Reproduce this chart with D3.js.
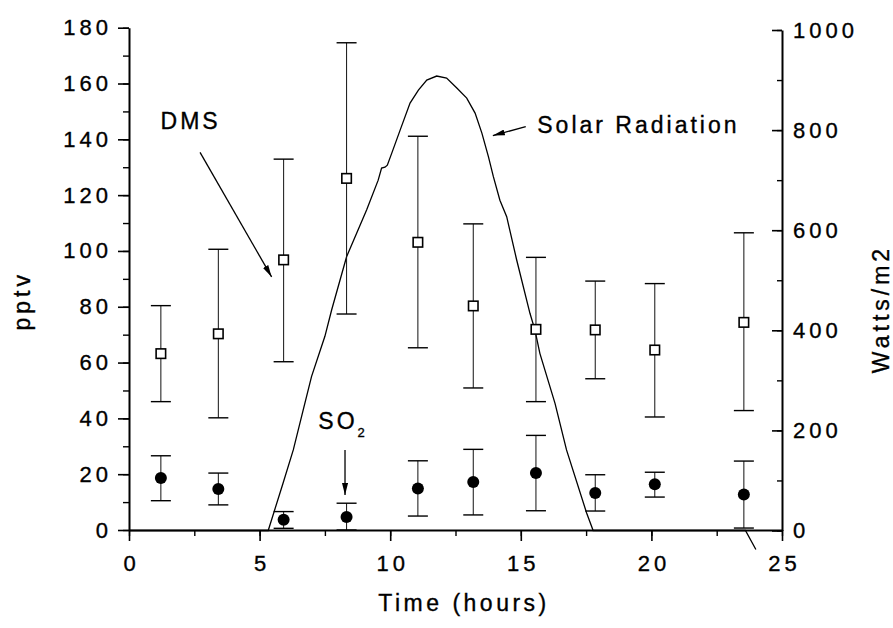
<!DOCTYPE html>
<html>
<head>
<meta charset="utf-8">
<script src="https://cdn.jsdelivr.net/npm/d3@7"></script>
<style>
  body { margin: 0; background: #fff; }
  svg { display: block; }
  text { font-family: "Liberation Sans", Arial, sans-serif; fill: #000; stroke: #000; stroke-width: 0.35px; }
</style>
</head>
<body>
<div id="chart"></div>
<script>
// sampling times (hours)
const times = [1.22, 3.42, 5.92, 8.33, 11.06, 13.18, 15.58, 17.85, 20.13, 23.54];

// DMS (pptv) mean / upper / lower
const dmsMean = [63.2, 70.3, 96.8, 126.0, 103.1, 80.3, 71.9, 71.7, 64.5, 74.4];
const dmsHigh = [80.4, 100.6, 132.9, 174.6, 141.1, 109.7, 97.7, 89.2, 88.3, 106.5];
const dmsLow  = [46.0, 40.2, 60.3, 77.4, 65.3, 50.9, 46.0, 54.2, 40.5, 42.8];

// SO2 (pptv) mean / upper / lower
const so2Mean = [18.6, 14.7, 3.7, 4.7, 14.9, 17.2, 20.4, 13.3, 16.4, 12.7];
const so2High = [26.6, 20.4, 6.6, 9.6, 24.8, 28.9, 33.9, 19.8, 20.7, 24.7];
const so2Low  = [10.5, 9.0, 0.6, 0, 5.0, 5.4, 6.9, 6.8, 11.8, 0.7];

// solar radiation (W/m2)
const solarT = [0, 5.33, 5.9, 6.29, 6.67, 6.99, 7.5, 7.76, 8.33, 9.1, 9.54, 9.67, 9.8, 9.89,
  10.06, 10.38, 10.76, 11.08, 11.4, 11.78, 12.16, 12.55, 12.93, 13.25, 13.51, 13.76, 13.95,
  14.2, 14.46, 14.84, 15.35, 15.54, 15.73, 16.31, 16.75, 17.52, 17.77, 23.6, 24.0];
const solarW = [0, 0, 95, 161, 241, 308, 388, 441, 547, 641, 700, 724, 726, 730,
  754, 800, 854, 880, 900, 908, 904, 884, 864, 834, 794, 747, 707,
  660, 627, 541, 434, 401, 354, 254, 161, 35, 0, 0, -38];

const xTicks = [0, 5, 10, 15, 20, 25];
const leftTicks = [0, 20, 40, 60, 80, 100, 120, 140, 160, 180];
const rightTicks = [0, 200, 400, 600, 800, 1000];

const W = 893, H = 628;
const svg = d3.select('#chart').append('svg').attr('width', W).attr('height', H);

const x = d3.scaleLinear().domain([0, 25]).range([129, 782]);
const yL = d3.scaleLinear().domain([0, 180]).range([530, 27.7]);
const yR = d3.scaleLinear().domain([0, 1000]).range([530.5, 30]);

// axes
function styleAxis(g, fs) {
  g.select('.domain').attr('stroke', '#000').attr('stroke-width', 2);
  g.selectAll('.tick line').attr('stroke', '#000').attr('stroke-width', 1.6);
  g.selectAll('.tick text')
    .style('font-family', '"Liberation Sans", Arial, sans-serif')
    .style('font-size', fs + 'px').style('letter-spacing', '4px').attr('fill', '#000');
}

// minor ticks first
svg.append('g').attr('transform', 'translate(0,530)')
  .call(d3.axisBottom(x).tickValues(d3.range(0, 25.1, 2.5)).tickSize(6).tickFormat(''))
  .call(g => { g.select('.domain').remove(); g.selectAll('line').attr('stroke', '#000').attr('stroke-width', 1.4); });
svg.append('g').attr('transform', 'translate(129,0)')
  .call(d3.axisLeft(yL).tickValues(d3.range(0, 181, 10)).tickSize(6).tickFormat(''))
  .call(g => { g.select('.domain').remove(); g.selectAll('line').attr('stroke', '#000').attr('stroke-width', 1.4); });
svg.append('g').attr('transform', 'translate(782,0)')
  .call(d3.axisRight(yR).tickValues(d3.range(0, 1001, 100)).tickSizeInner(-5).tickSizeOuter(0).tickFormat(''))
  .call(g => { g.select('.domain').remove(); g.selectAll('line').attr('stroke', '#000').attr('stroke-width', 1.4); });

svg.append('g').attr('transform', 'translate(0,530)')
  .call(d3.axisBottom(x).tickValues(xTicks).tickSize(11).tickSizeOuter(0).tickPadding(14))
  .call(g => styleAxis(g, 22))
  .call(g => g.selectAll('.tick text').attr('dx', 2));

svg.append('g').attr('transform', 'translate(129,0)')
  .call(d3.axisLeft(yL).tickValues(leftTicks).tickSize(11).tickSizeOuter(0).tickPadding(6))
  .call(g => styleAxis(g, 22));

svg.append('g').attr('transform', 'translate(782,0)')
  .call(d3.axisRight(yR).tickValues(rightTicks).tickFormat(d3.format('d'))
    .tickSizeInner(-10).tickSizeOuter(0).tickPadding(11))
  .call(g => styleAxis(g, 22));

// axis titles
svg.append('text')
  .attr('transform', `translate(30,${(yL(0) + yL(180)) / 2 + 22}) rotate(-90)`)
  .attr('text-anchor', 'middle')
  .style('font-size', '23px').style('letter-spacing', '4px')
  .text('pptv');
svg.append('text')
  .attr('transform', `translate(889,309) rotate(-90)`)
  .attr('text-anchor', 'middle')
  .style('font-size', '23px').style('letter-spacing', '4px')
  .text('Watts/m2');
svg.append('text')
  .attr('x', 464).attr('y', 611)
  .attr('text-anchor', 'middle')
  .style('font-size', '23px').style('letter-spacing', '3.5px')
  .text('Time (hours)');

// solar radiation curve
const solar = solarT.map((t, i) => [t, solarW[i]]);
svg.append('path')
  .datum(solar)
  .attr('fill', 'none').attr('stroke', '#000').attr('stroke-width', 1.3)
  .attr('d', d3.line().x(d => x(d[0])).y(d => yR(d[1])));

// error bars
function errorBars(lo, hi) {
  const g = svg.append('g');
  times.forEach((t, i) => {
    g.append('line').attr('x1', x(t)).attr('x2', x(t)).attr('y1', yL(lo[i])).attr('y2', yL(hi[i]))
      .attr('stroke', '#111').attr('stroke-width', 1);
    [lo[i], hi[i]].forEach(v => {
      g.append('line').attr('x1', x(t) - 10).attr('x2', x(t) + 10).attr('y1', yL(v)).attr('y2', yL(v))
        .attr('stroke', '#000').attr('stroke-width', 1.4);
    });
  });
}
errorBars(dmsLow, dmsHigh);
errorBars(so2Low, so2High);

// DMS squares
svg.append('g').selectAll('rect').data(times).join('rect')
  .attr('x', (d) => x(d) - 4.75).attr('y', (d, i) => yL(dmsMean[i]) - 4.75)
  .attr('width', 9.5).attr('height', 9.5)
  .attr('fill', '#fff').attr('stroke', '#000').attr('stroke-width', 1.6);

// SO2 dots
svg.append('g').selectAll('circle').data(times).join('circle')
  .attr('cx', d => x(d)).attr('cy', (d, i) => yL(so2Mean[i]))
  .attr('r', 6).attr('fill', '#000');

// annotations
svg.append('defs').append('marker')
  .attr('id', 'ah').attr('viewBox', '0 0 12 6').attr('refX', 12).attr('refY', 3)
  .attr('markerWidth', 12).attr('markerHeight', 6).attr('markerUnits', 'userSpaceOnUse')
  .attr('orient', 'auto')
  .append('path').attr('d', 'M0,0 L12,3 L0,6 Z').attr('fill', '#000');

function arrow(t1, v1, t2, v2, ys) {
  svg.append('line')
    .attr('x1', x(t1)).attr('y1', ys(v1)).attr('x2', x(t2)).attr('y2', ys(v2))
    .attr('stroke', '#000').attr('stroke-width', 1.3).attr('marker-end', 'url(#ah)');
}
arrow(2.72, 135.3, 5.46, 90.7, yL);
arrow(15.19, 807, 13.93, 789, yR);
arrow(8.27, 28.7, 8.27, 12.5, yL);

svg.append('text').attr('x', x(1.21)).attr('y', yL(143.7))
  .style('font-size', '23px').style('letter-spacing', '3px').text('DMS');
svg.append('text').attr('x', x(15.63)).attr('y', yR(794))
  .style('font-size', '23px').style('letter-spacing', '3px').text('Solar Radiation');
const so = svg.append('text').attr('x', x(7.25)).attr('y', yL(36.2))
  .style('font-size', '23px').style('letter-spacing', '3px');
so.append('tspan').text('SO');
so.append('tspan').attr('dy', 8).style('font-size', '13px').text('2');
</script>
</body>
</html>
